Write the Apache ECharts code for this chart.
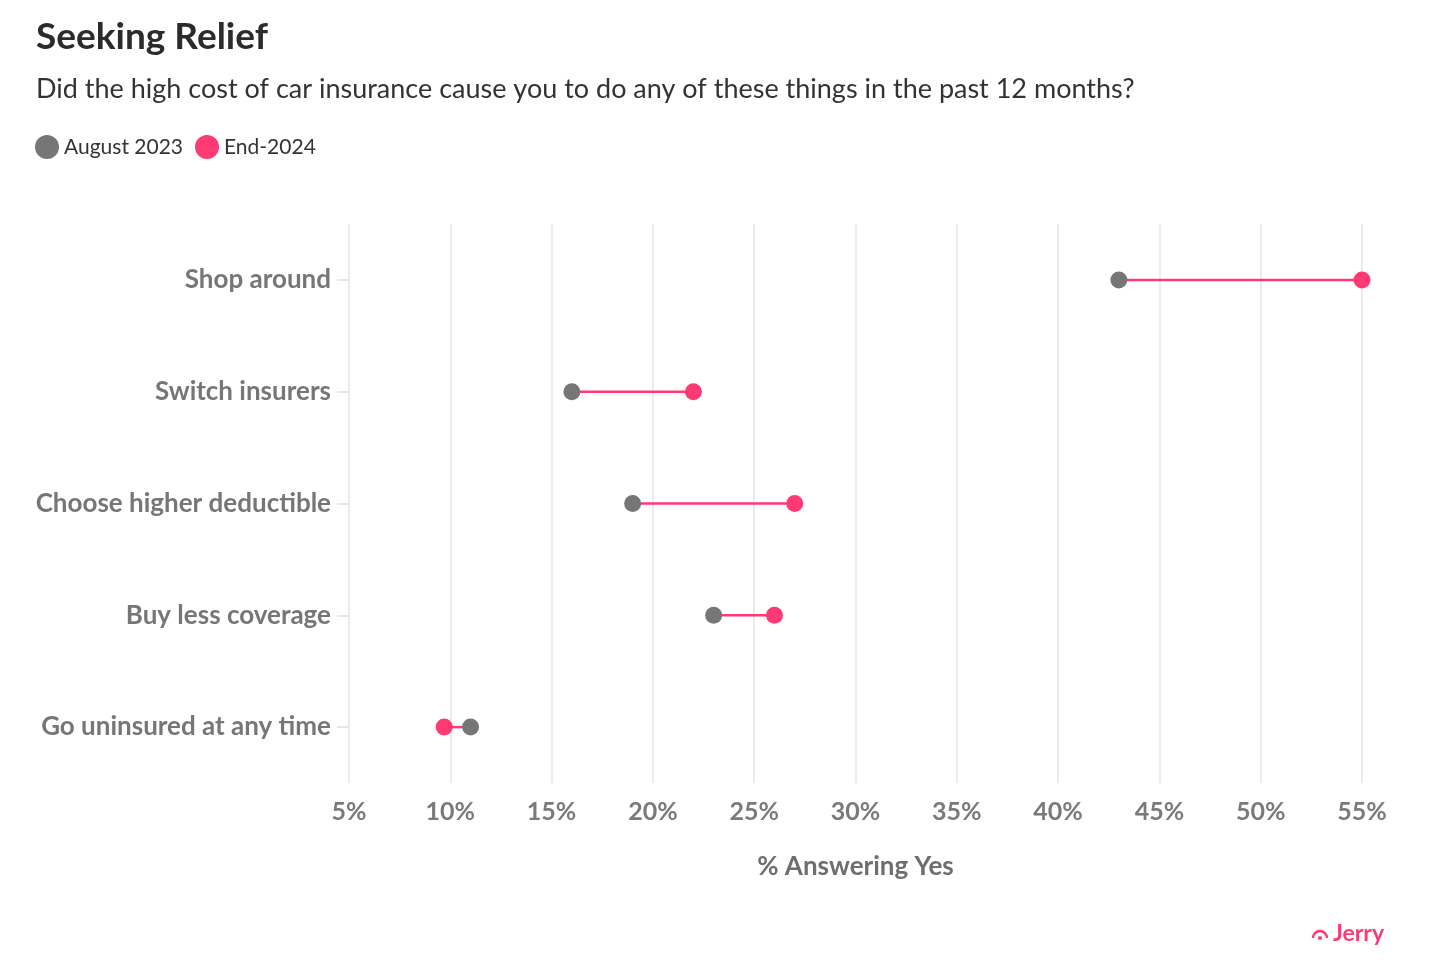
<!DOCTYPE html>
<html>
<head>
<meta charset="utf-8">
<script src="https://cdn.jsdelivr.net/npm/echarts@6/dist/echarts.min.js"></script>
<style>
html,body{margin:0;padding:0;background:#fff;}
#chart{width:1440px;height:976px;}
</style>
</head>
<body>
<div id="chart"></div>
<script>
const categories = ['Shop around', 'Switch insurers', 'Choose higher deductible', 'Buy less coverage', 'Go uninsured at any time'];
const aug2023 = [43, 16, 19, 23, 11];
const end2024 = [55, 22, 27, 26, 9.7];
const xTicks = [5, 10, 15, 20, 25, 30, 35, 40, 45, 50, 55];

const GRAY = '#767676';
const PINK = '#fe3a75';
const FONT = 'Lato, "Noto Sans", sans-serif';

const chart = echarts.init(document.getElementById('chart'));

const pairData = categories.map((c, i) => [aug2023[i], end2024[i], i]);

chart.setOption({
  animation: false,
  textStyle: { fontFamily: FONT },
  title: [
    { text: 'Seeking Relief', left: 31, top: 14,
      textStyle: { fontFamily: FONT, fontSize: 37, fontWeight: 'bold', color: '#2b2b2b' } },
    { text: 'Did the high cost of car insurance cause you to do any of these things in the past 12 months?',
      left: 31, top: 71,
      textStyle: { fontFamily: FONT, fontSize: 27, fontWeight: 'normal', color: '#333' } }
  ],
  legend: {
    left: 30, top: 130,
    icon: 'circle', itemWidth: 24, itemHeight: 24, itemGap: 12,
    textStyle: { fontFamily: FONT, fontSize: 21, color: '#333' },
    data: ['August 2023', 'End-2024']
  },
  grid: { left: 349, right: 78, top: 224, bottom: 193, containLabel: false },
  xAxis: {
    type: 'value', min: xTicks[0], max: xTicks[xTicks.length - 1], interval: 5,
    axisLine: { show: false }, axisTick: { show: false },
    splitLine: { show: true, lineStyle: { color: '#ececec', width: 2 } },
    axisLabel: { formatter: v => xTicks.includes(v) ? v + '%' : '', margin: 16,
      fontFamily: FONT, fontSize: 25, fontWeight: 'bold', color: '#7a7a7a' },
    name: '% Answering Yes', nameLocation: 'middle', nameGap: 71,
    nameTextStyle: { fontFamily: FONT, fontSize: 26, fontWeight: 'bold', color: '#6e6e6e' }
  },
  yAxis: {
    type: 'category', data: categories, inverse: true,
    axisLine: { show: false },
    axisTick: { show: true, alignWithLabel: true, length: 12, lineStyle: { color: '#e0e0e0', width: 1.5 } },
    axisLabel: { margin: 18, fontFamily: FONT, fontSize: 26, fontWeight: 'bold', color: '#767676' }
  },
  series: [
    {
      type: 'custom', name: 'connector', silent: true, z: 2,
      data: pairData,
      encode: { x: [0, 1], y: 2 },
      renderItem: function (params, api) {
        const p1 = api.coord([api.value(0), api.value(2)]);
        const p2 = api.coord([api.value(1), api.value(2)]);
        return { type: 'line', shape: { x1: p1[0], y1: p1[1], x2: p2[0], y2: p2[1] },
          style: { stroke: PINK, lineWidth: 2.5 } };
      }
    },
    {
      type: 'scatter', name: 'August 2023', z: 3,
      symbol: 'circle', symbolSize: 17,
      itemStyle: { color: GRAY, opacity: 1 },
      data: aug2023.map((v, i) => [v, categories[i]])
    },
    {
      type: 'scatter', name: 'End-2024', z: 4,
      symbol: 'circle', symbolSize: 17,
      itemStyle: { color: PINK, opacity: 1 },
      data: end2024.map((v, i) => [v, categories[i]])
    }
  ],
  graphic: [
    { type: 'arc', shape: { cx: 1320, cy: 938, r: 7, startAngle: Math.PI, endAngle: 2 * Math.PI },
      style: { stroke: PINK, lineWidth: 2.4, fill: null } },
    { type: 'circle', shape: { cx: 1320, cy: 938, r: 2 }, style: { fill: PINK } },
    { type: 'text', left: 1333, top: 922,
      style: { text: 'Jerry', fill: PINK, font: 'bold 23px ' + FONT } }
  ]
});
</script>
</body>
</html>
